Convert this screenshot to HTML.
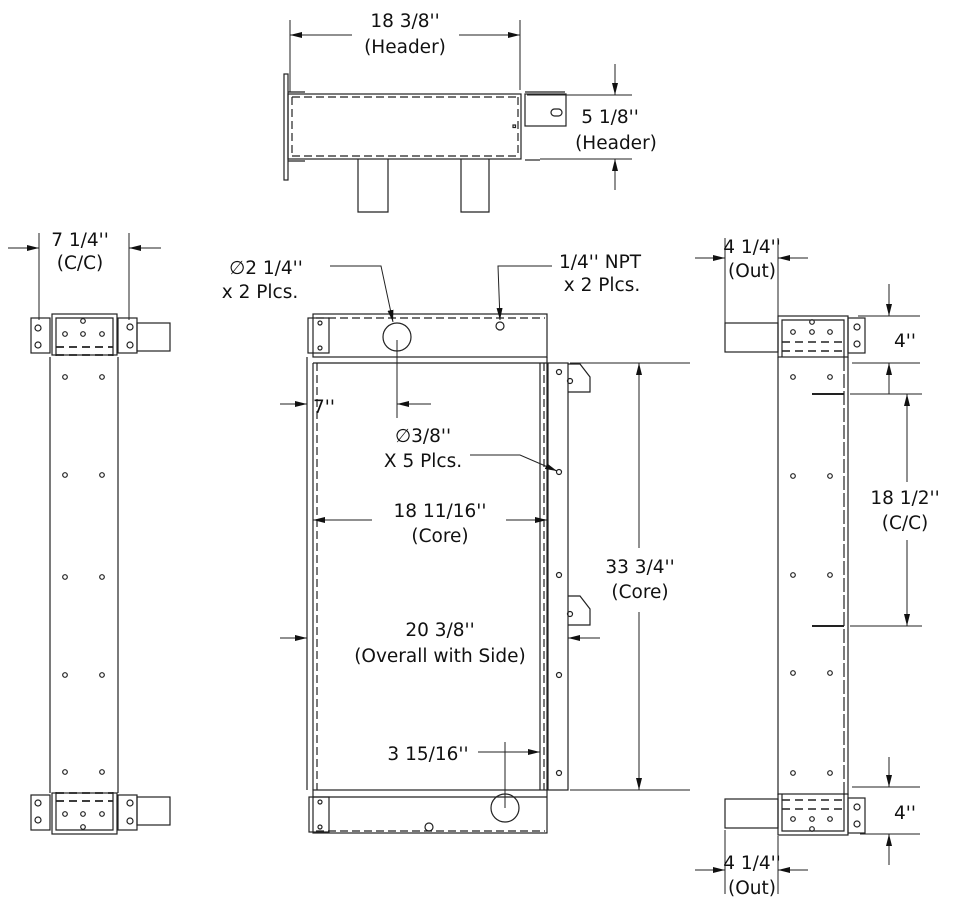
<!DOCTYPE html>
<html><head><meta charset="utf-8"><style>
html,body{margin:0;padding:0;background:#fff;}
svg{display:block;}
text{font-family:"DejaVu Sans","Liberation Sans",sans-serif;font-size:18.5px;fill:#111;text-anchor:middle;}
</style></head><body>
<svg width="960" height="914" viewBox="0 0 960 914" xmlns="http://www.w3.org/2000/svg">
<defs>
<marker id="a" viewBox="0 0 12 6" refX="12" refY="3" markerWidth="12" markerHeight="6" orient="auto" markerUnits="userSpaceOnUse"><path d="M0,0L12,3L0,6z" fill="#111"/></marker>
</defs>
<g fill="none" stroke="#222" stroke-width="1.2">
<rect x="284" y="74" width="4" height="106"/>
<rect x="288" y="94" width="233" height="65"/>
<line x1="292" y1="97" x2="518" y2="97" stroke-dasharray="8,4"/>
<line x1="292" y1="156" x2="518" y2="156" stroke-dasharray="8,4"/>
<line x1="292" y1="97" x2="292" y2="156" stroke-dasharray="8,4"/>
<line x1="518" y1="97" x2="518" y2="156" stroke-dasharray="8,4"/>
<line x1="288" y1="92" x2="305" y2="92"/><line x1="288" y1="161" x2="305" y2="161"/>
<rect x="525" y="94" width="41" height="32"/>
<line x1="525" y1="92" x2="565" y2="92"/><line x1="525" y1="160" x2="540" y2="160"/>
<rect x="551" y="109" width="11" height="7" rx="3.5"/>
<rect x="513" y="125" width="2.5" height="2.5"/>
<polyline points="358,159 358,212 388,212 388,159"/>
<polyline points="461,159 461,212 489,212 489,159"/>
<g id="lh">
<rect x="31" y="318" width="19" height="35"/>
<rect x="52" y="314" width="65" height="41"/>
<polyline points="56,356 56,318 113,318 113,356"/>
<rect x="118" y="318" width="19" height="35"/>
<rect x="137" y="323" width="33" height="28"/>
<line x1="56" y1="347" x2="113" y2="347" stroke-dasharray="8,5" stroke-width="1.8"/>
<line x1="56" y1="355" x2="113" y2="355" stroke-dasharray="8,5" stroke-width="1.8"/>
<circle cx="38" cy="328" r="3"/><circle cx="38" cy="345" r="3"/>
<circle cx="130" cy="327" r="3"/><circle cx="130" cy="345" r="3"/>
<circle cx="83" cy="321" r="2.3"/><circle cx="65" cy="334" r="2.3"/><circle cx="83" cy="334" r="2.3"/><circle cx="102" cy="334" r="2.3"/>
</g>
<line x1="50" y1="357" x2="50" y2="793"/><line x1="118" y1="357" x2="118" y2="793"/>
<g transform="translate(0,1148) scale(1,-1)"><use href="#lh"/></g>
<circle cx="65" cy="377" r="2.3"/><circle cx="102" cy="377" r="2.3"/>
<circle cx="65" cy="475" r="2.3"/><circle cx="102" cy="475" r="2.3"/>
<circle cx="65" cy="577" r="2.3"/><circle cx="102" cy="577" r="2.3"/>
<circle cx="65" cy="675" r="2.3"/><circle cx="102" cy="675" r="2.3"/>
<circle cx="65" cy="772" r="2.3"/><circle cx="102" cy="772" r="2.3"/>
<rect x="313" y="314" width="234" height="43"/>
<line x1="316" y1="318" x2="545" y2="318" stroke-dasharray="8,4"/>
<rect x="308" y="318" width="21" height="35"/>
<circle cx="320" cy="323" r="2"/><circle cx="320" cy="348" r="2"/>
<circle cx="397" cy="337" r="14"/>
<circle cx="500" cy="326" r="4"/>
<line x1="313" y1="363" x2="547" y2="363"/>
<line x1="307" y1="357" x2="307" y2="790"/><line x1="313" y1="363" x2="313" y2="790"/>
<line x1="317" y1="363" x2="317" y2="790" stroke-dasharray="8,4"/>
<line x1="540" y1="363" x2="540" y2="790"/><line x1="547" y1="357" x2="547" y2="790"/>
<line x1="544" y1="363" x2="544" y2="790" stroke-dasharray="8,4"/>
<rect x="548" y="363" width="20" height="427"/>
<circle cx="559" cy="372" r="2.5"/><circle cx="559" cy="472" r="2.5"/><circle cx="559" cy="575" r="2.5"/><circle cx="559" cy="675" r="2.5"/><circle cx="559" cy="773" r="2.5"/>
<polyline points="568,364 580,364 590,377 590,392 568,392"/>
<circle cx="570" cy="381" r="2.5"/>
<polyline points="568,596 580,596 590,609 590,625 568,625"/>
<circle cx="570" cy="614" r="2.5"/>
<rect x="313" y="790" width="234" height="43"/>
<line x1="313" y1="797" x2="547" y2="797"/>
<line x1="316" y1="831" x2="545" y2="831" stroke-dasharray="8,4"/>
<rect x="309" y="797" width="20" height="35"/>
<circle cx="320" cy="802" r="2"/><circle cx="320" cy="827" r="2"/>
<circle cx="505" cy="808" r="14"/>
<circle cx="429" cy="827" r="4"/>
<g id="rh">
<rect x="725" y="323" width="53" height="29"/>
<rect x="778" y="316" width="70" height="41"/>
<polyline points="782,357 782,320 844,320 844,357"/>
<rect x="848" y="318" width="17" height="35"/>
<line x1="782" y1="342" x2="844" y2="342" stroke-dasharray="8,5" stroke-width="1.6"/>
<line x1="782" y1="351" x2="844" y2="351" stroke-dasharray="8,5" stroke-width="1.6"/>
<circle cx="857" cy="327" r="3"/><circle cx="857" cy="344" r="3"/>
<circle cx="812" cy="322" r="2.3"/><circle cx="793" cy="332" r="2.3"/><circle cx="812" cy="332" r="2.3"/><circle cx="830" cy="332" r="2.3"/>
</g>
<g transform="translate(0,1151) scale(1,-1)"><use href="#rh"/></g>
<line x1="778" y1="357" x2="778" y2="795"/><line x1="844" y1="357" x2="844" y2="795" stroke-dasharray="14,3"/><line x1="848" y1="357" x2="848" y2="795"/>
<line x1="812" y1="394" x2="844" y2="394" stroke-width="2"/>
<line x1="812" y1="626" x2="844" y2="626" stroke-width="2"/>
<circle cx="793" cy="377" r="2.3"/><circle cx="830" cy="377" r="2.3"/>
<circle cx="793" cy="476" r="2.3"/><circle cx="830" cy="476" r="2.3"/>
<circle cx="793" cy="575" r="2.3"/><circle cx="830" cy="575" r="2.3"/>
<circle cx="793" cy="673" r="2.3"/><circle cx="830" cy="673" r="2.3"/>
<circle cx="793" cy="773" r="2.3"/><circle cx="830" cy="773" r="2.3"/>
</g>
<g fill="none" stroke="#222" stroke-width="1">
<line x1="290" y1="20" x2="290" y2="92"/><line x1="520" y1="20" x2="520" y2="90"/>
<line x1="352" y1="35" x2="290" y2="35" marker-end="url(#a)"/><line x1="459" y1="35" x2="520" y2="35" marker-end="url(#a)"/>
<line x1="527" y1="95" x2="632" y2="95"/><line x1="540" y1="159" x2="632" y2="159"/>
<line x1="615" y1="64" x2="615" y2="95" marker-end="url(#a)"/><line x1="615" y1="190" x2="615" y2="159" marker-end="url(#a)"/>
<line x1="39" y1="233" x2="39" y2="320"/><line x1="129" y1="233" x2="129" y2="320"/>
<line x1="8" y1="248" x2="39" y2="248" marker-end="url(#a)"/><line x1="161" y1="248" x2="129" y2="248" marker-end="url(#a)"/>
<line x1="280" y1="404" x2="307" y2="404" marker-end="url(#a)"/>
<line x1="397" y1="340" x2="397" y2="418"/>
<line x1="431" y1="404" x2="397" y2="404" marker-end="url(#a)"/>
<polyline points="330,266 381,266 393,322" marker-end="url(#a)"/>
<polyline points="552,266 498,266 500,320" marker-end="url(#a)"/>
<polyline points="470,455 520,455 557,471" marker-end="url(#a)"/>
<line x1="372" y1="520" x2="313" y2="520" marker-end="url(#a)"/><line x1="506" y1="520" x2="547" y2="520" marker-end="url(#a)"/>
<line x1="280" y1="638" x2="307" y2="638" marker-end="url(#a)"/><line x1="600" y1="638" x2="568" y2="638" marker-end="url(#a)"/>
<line x1="505" y1="742" x2="505" y2="808"/>
<line x1="478" y1="752" x2="505" y2="752"/><line x1="505" y1="752" x2="540" y2="752" marker-end="url(#a)"/>
<line x1="570" y1="363" x2="690" y2="363"/><line x1="570" y1="790" x2="690" y2="790"/>
<line x1="639" y1="548" x2="639" y2="363" marker-end="url(#a)"/><line x1="639" y1="612" x2="639" y2="790" marker-end="url(#a)"/>
<line x1="725" y1="238" x2="725" y2="323"/><line x1="778" y1="238" x2="778" y2="316"/>
<line x1="695" y1="258" x2="725" y2="258" marker-end="url(#a)"/><line x1="808" y1="258" x2="778" y2="258" marker-end="url(#a)"/>
<line x1="858" y1="316" x2="920" y2="316"/><line x1="852" y1="363" x2="920" y2="363"/>
<line x1="889" y1="284" x2="889" y2="316" marker-end="url(#a)"/><line x1="889" y1="394" x2="889" y2="363" marker-end="url(#a)"/>
<line x1="850" y1="394" x2="922" y2="394"/><line x1="850" y1="626" x2="922" y2="626"/>
<line x1="907" y1="482" x2="907" y2="394" marker-end="url(#a)"/><line x1="907" y1="540" x2="907" y2="626" marker-end="url(#a)"/>
<line x1="852" y1="787" x2="920" y2="787"/><line x1="860" y1="834" x2="920" y2="834"/>
<line x1="889" y1="757" x2="889" y2="787" marker-end="url(#a)"/><line x1="889" y1="865" x2="889" y2="834" marker-end="url(#a)"/>
<line x1="725" y1="830" x2="725" y2="894"/><line x1="778" y1="836" x2="778" y2="894"/>
<line x1="695" y1="870" x2="725" y2="870" marker-end="url(#a)"/><line x1="808" y1="870" x2="778" y2="870" marker-end="url(#a)"/>
</g>
<text x="405" y="27">18 3/8''</text><text x="405" y="53">(Header)</text>
<text x="610" y="123">5 1/8''</text><text x="616" y="149">(Header)</text>
<text x="80" y="246">7 1/4''</text><text x="80" y="269">(C/C)</text>
<text x="266" y="274">∅2 1/4''</text><text x="260" y="298">x 2 Plcs.</text>
<text x="600" y="268">1/4'' NPT</text><text x="602" y="291">x 2 Plcs.</text>
<text x="324" y="413">7''</text>
<text x="423" y="442">∅3/8''</text><text x="423" y="467">X 5 Plcs.</text>
<text x="440" y="517">18 11/16''</text><text x="440" y="542">(Core)</text>
<text x="440" y="636">20 3/8''</text><text x="440" y="662">(Overall with Side)</text>
<text x="428" y="760">3 15/16''</text>
<text x="640" y="573">33 3/4''</text><text x="640" y="598">(Core)</text>
<text x="752" y="253">4 1/4''</text><text x="752" y="277">(Out)</text>
<text x="905" y="347">4''</text>
<text x="905" y="504">18 1/2''</text><text x="905" y="529">(C/C)</text>
<text x="905" y="819">4''</text>
<text x="752" y="869">4 1/4''</text><text x="752" y="894">(Out)</text>
</svg>
</body></html>
